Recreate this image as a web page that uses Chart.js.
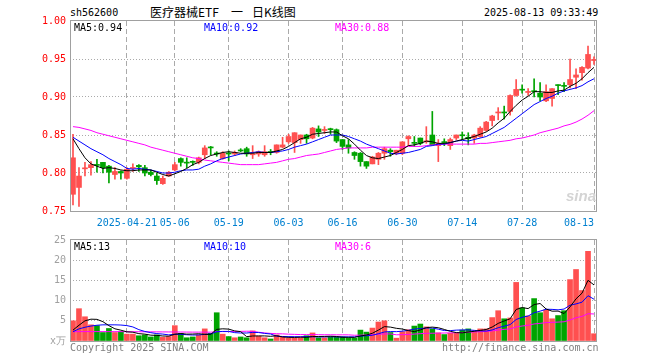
<!DOCTYPE html>
<html>
<head>
<meta charset="utf-8">
<script src="https://cdn.jsdelivr.net/npm/chart.js@4.4.0/dist/chart.umd.min.js"></script>
<style>
  body { margin: 0; background: #fff; width: 660px; height: 360px; position: relative; overflow: hidden; }
  canvas { position: absolute; left: 0; }
  .t { position: absolute; font: 10px "DejaVu Sans Mono", monospace; line-height: 10px; white-space: pre; }
  .cn { position: absolute; font: 12px "Noto Sans CJK SC", sans-serif; line-height: 14px; white-space: pre; }
</style>
</head>
<body>
<div class="t" style="left:70px;top:8px">sh562600</div>
<div class="cn" style="left:150px;top:5px">医疗器械ETF</div>
<div class="cn" style="left:231px;top:5px">一</div>
<div class="cn" style="left:252px;top:5px">日K线图</div>
<div class="t" style="left:484px;top:8px">2025-08-13 09:33:49</div>

<canvas id="kline" width="660" height="235" style="top:0"></canvas>
<canvas id="vol" width="660" height="132" style="top:228px"></canvas>

<div class="t" style="left:74px;top:23px;color:#000">MA5:0.94</div>
<div class="t" style="left:204px;top:23px;color:#0000ff">MA10:0.92</div>
<div class="t" style="left:335px;top:23px;color:#ff00ff">MA30:0.88</div>
<div class="t" style="left:74px;top:242px;color:#000">MA5:13</div>
<div class="t" style="left:204px;top:242px;color:#0000ff">MA10:10</div>
<div class="t" style="left:335px;top:242px;color:#ff00ff">MA30:6</div>

<div style="position:absolute;left:566px;top:187px;font:italic bold 15px 'Liberation Sans',sans-serif;color:#d4d4d4">sina</div>

<div class="t" style="left:70px;top:343px;color:#808080">Copyright 2025 SINA.COM</div>
<div class="t" style="left:442px;top:343px;color:#808080">http://finance.sina.com.cn</div>

<script>
// 交易日
var dates = ['04-08','04-09','04-10','04-11','04-14','04-15','04-16','04-17','04-18','04-21',
  '04-22','04-23','04-24','04-25','04-28','04-29','04-30','05-06','05-07','05-08',
  '05-09','05-12','05-13','05-14','05-15','05-16','05-19','05-20','05-21','05-22',
  '05-23','05-26','05-27','05-28','05-29','05-30','06-03','06-04','06-05','06-06',
  '06-09','06-10','06-11','06-12','06-13','06-16','06-17','06-18','06-19','06-20',
  '06-23','06-24','06-25','06-26','06-27','06-30','07-01','07-02','07-03','07-04',
  '07-07','07-08','07-09','07-10','07-11','07-14','07-15','07-16','07-17','07-18',
  '07-21','07-22','07-23','07-24','07-25','07-28','07-29','07-30','07-31','08-01',
  '08-04','08-05','08-06','08-07','08-08','08-11','08-12','08-13'];

var tickDates = ['04-21','05-06','05-19','06-03','06-16','06-30','07-14','07-28','08-13'];
var tickText  = ['2025-04-21','05-06','05-19','06-03','06-16','06-30','07-14','07-28','08-13'];

var open = [0.772,0.781,0.8055,0.807,0.811,0.814,0.809,0.798,0.802,0.793,
  0.806,0.810,0.807,0.801,0.796,0.786,0.796,0.804,0.819,0.814,
  0.8145,0.814,0.824,0.834,0.826,0.819,0.826,0.825,0.830,0.832,
  0.824,0.825,0.824,0.828,0.827,0.834,0.841,0.840,0.844,0.850,
  0.846,0.858,0.856,0.8575,0.857,0.844,0.837,0.827,0.826,0.815,
  0.812,0.818,0.826,0.830,0.826,0.826,0.845,0.840,0.846,0.841,
  0.850,0.836,0.8405,0.836,0.846,0.850,0.847,0.846,0.848,0.856,
  0.869,0.879,0.880,0.881,0.902,0.910,0.906,0.908,0.905,0.895,
  0.898,0.9155,0.9145,0.916,0.926,0.932,0.938,0.948];
var high = [0.851,0.807,0.814,0.815,0.818,0.814,0.810,0.807,0.803,0.807,
  0.812,0.811,0.810,0.804,0.800,0.796,0.802,0.814,0.820,0.820,
  0.816,0.821,0.836,0.835,0.828,0.828,0.829,0.829,0.832,0.834,
  0.836,0.829,0.836,0.831,0.837,0.847,0.851,0.853,0.850,0.851,
  0.860,0.862,0.861,0.859,0.858,0.844,0.844,0.828,0.827,0.815,
  0.822,0.827,0.834,0.832,0.830,0.841,0.849,0.848,0.846,0.861,
  0.881,0.844,0.845,0.846,0.850,0.854,0.853,0.851,0.861,0.868,
  0.876,0.886,0.888,0.903,0.923,0.916,0.911,0.924,0.919,0.916,
  0.911,0.916,0.919,0.950,0.937,0.940,0.967,0.953];
var low = [0.758,0.756,0.796,0.797,0.801,0.800,0.787,0.792,0.792,0.792,
  0.802,0.802,0.796,0.796,0.785,0.785,0.796,0.803,0.809,0.807,
  0.810,0.812,0.819,0.824,0.822,0.818,0.816,0.823,0.828,0.822,
  0.819,0.822,0.822,0.824,0.826,0.833,0.839,0.827,0.839,0.839,
  0.845,0.848,0.852,0.851,0.840,0.831,0.826,0.818,0.809,0.806,
  0.812,0.811,0.818,0.822,0.824,0.824,0.836,0.835,0.837,0.839,
  0.837,0.815,0.836,0.831,0.844,0.844,0.837,0.839,0.847,0.855,
  0.862,0.870,0.871,0.876,0.901,0.905,0.902,0.900,0.895,0.894,
  0.888,0.903,0.907,0.912,0.911,0.922,0.937,0.943];
var close = [0.820,0.796,0.8065,0.811,0.810,0.807,0.801,0.802,0.800,0.805,
  0.807,0.808,0.800,0.798,0.790,0.793,0.801,0.811,0.814,0.813,
  0.814,0.820,0.833,0.833,0.825,0.826,0.825,0.827,0.829,0.825,
  0.825,0.828,0.828,0.827,0.837,0.837,0.848,0.853,0.850,0.845,
  0.859,0.854,0.8565,0.857,0.842,0.835,0.833,0.823,0.815,0.809,
  0.821,0.826,0.832,0.828,0.830,0.841,0.848,0.839,0.839,0.842,
  0.837,0.839,0.840,0.844,0.850,0.849,0.845,0.850,0.859,0.867,
  0.875,0.880,0.879,0.902,0.910,0.909,0.907,0.907,0.900,0.907,
  0.911,0.915,0.914,0.923,0.929,0.939,0.956,0.949];

var ma5 = [0.845,0.832,0.820,0.812,0.809,0.806,0.807,0.806,0.804,0.803,
  0.803,0.804,0.804,0.804,0.801,0.798,0.796,0.799,0.802,0.806,
  0.811,0.814,0.819,0.823,0.825,0.827,0.828,0.827,0.826,0.826,
  0.826,0.827,0.827,0.827,0.829,0.831,0.835,0.840,0.845,0.847,
  0.851,0.852,0.853,0.854,0.854,0.849,0.845,0.838,0.830,0.823,
  0.820,0.819,0.821,0.823,0.827,0.831,0.836,0.837,0.839,0.842,
  0.841,0.839,0.839,0.840,0.842,0.844,0.846,0.848,0.851,0.854,
  0.859,0.866,0.872,0.881,0.889,0.896,0.901,0.907,0.907,0.906,
  0.906,0.908,0.909,0.914,0.918,0.924,0.932,0.939];
var ma10 = [0.847,0.842,0.837,0.832,0.828,0.824,0.819,0.815,0.811,0.806,
  0.805,0.806,0.805,0.804,0.802,0.800,0.800,0.801,0.803,0.804,
  0.804,0.805,0.809,0.812,0.816,0.819,0.821,0.823,0.825,0.826,
  0.827,0.828,0.827,0.827,0.828,0.829,0.831,0.834,0.836,0.838,
  0.841,0.844,0.847,0.850,0.850,0.850,0.848,0.845,0.842,0.838,
  0.835,0.832,0.829,0.826,0.825,0.826,0.827,0.829,0.831,0.835,
  0.836,0.838,0.838,0.840,0.842,0.843,0.842,0.844,0.846,0.848,
  0.852,0.856,0.860,0.866,0.872,0.878,0.884,0.890,0.894,0.898,
  0.901,0.905,0.908,0.910,0.912,0.915,0.920,0.924];
var ma30 = [0.861,0.860,0.858,0.856,0.853,0.851,0.849,0.847,0.845,0.843,
  0.841,0.839,0.837,0.834,0.832,0.830,0.828,0.826,0.824,0.822,
  0.820,0.819,0.817,0.816,0.815,0.814,0.813,0.812,0.811,0.811,
  0.811,0.811,0.812,0.813,0.814,0.816,0.818,0.819,0.821,0.823,
  0.824,0.825,0.827,0.829,0.831,0.832,0.833,0.833,0.833,0.833,
  0.834,0.834,0.834,0.834,0.834,0.834,0.835,0.835,0.835,0.836,
  0.837,0.837,0.838,0.838,0.838,0.838,0.838,0.838,0.839,0.839,
  0.840,0.841,0.842,0.843,0.845,0.846,0.848,0.850,0.853,0.855,
  0.857,0.859,0.862,0.864,0.867,0.871,0.876,0.882];

// 成交量 (万)
var volume = [5.0,8.0,6.0,4.0,3.8,2.1,3.1,2.1,2.3,1.7,
  1.7,1.3,1.5,1.0,1.5,0.9,1.1,3.8,1.9,0.8,
  1.0,1.5,3.0,1.9,7.0,1.7,1.1,0.8,1.0,0.8,
  2.5,1.2,0.8,0.5,1.5,1.0,0.7,0.7,0.8,1.3,
  2.0,0.8,0.8,1.0,1.0,1.0,0.8,0.7,2.7,2.2,
  3.2,4.7,5.0,2.1,0.7,2.3,2.8,3.7,4.2,3.5,
  3.0,2.0,1.6,1.9,1.9,2.7,3.0,2.5,3.0,3.0,
  5.8,7.5,5.5,5.7,14.5,8.2,6.2,10.5,7.0,7.7,
  5.5,6.3,7.5,15.2,17.7,12.5,22.2,1.8];
var vma5 = [2.7,3.9,5.0,5.4,5.36,4.78,3.8,3.02,2.68,2.26,
  2.18,1.82,1.7,1.44,1.4,1.24,1.2,1.66,1.84,1.7,
  1.72,1.8,1.64,1.64,2.88,3.02,2.94,2.5,2.32,1.08,
  1.24,1.26,1.26,1.16,1.3,1.0,0.9,0.88,0.94,0.9,
  1.1,1.12,1.14,1.18,1.12,0.92,0.92,0.9,1.24,1.48,
  1.92,2.7,3.56,3.44,3.14,2.96,2.58,2.32,2.74,3.3,
  3.44,3.28,2.86,2.4,2.08,2.02,2.22,2.4,2.62,2.84,
  3.46,4.36,4.96,5.5,7.8,8.28,8.02,9.02,9.28,7.92,
  7.38,7.4,6.8,8.44,10.44,11.84,15.02,13.88];
var vma10 = [2.3,3.0,3.4,3.7,3.9,4.0,4.0,4.0,3.95,3.81,
  3.48,2.81,2.36,2.06,1.83,1.71,1.51,1.68,1.64,1.55,
  1.48,1.5,1.65,1.74,2.29,2.37,2.37,2.07,1.98,1.98,
  2.13,2.1,1.88,1.74,1.19,1.12,1.08,1.07,1.05,1.1,
  1.05,1.01,1.01,1.06,1.01,1.01,1.02,1.02,1.21,1.3,
  1.42,1.81,2.23,2.34,2.31,2.44,2.64,2.94,3.09,3.22,
  3.2,2.93,2.59,2.57,2.69,2.73,2.75,2.63,2.51,2.46,
  2.74,3.29,3.68,4.06,5.32,5.87,6.19,6.99,7.39,7.86,
  7.83,7.71,7.91,8.86,9.18,9.61,11.21,10.34];
var vma30 = [2.30,2.32,2.33,2.33,2.33,2.33,2.32,2.32,2.31,2.30,
  2.30,2.29,2.28,2.27,2.26,2.25,2.24,2.23,2.22,2.21,
  2.20,2.20,2.19,2.18,2.33,2.33,2.33,2.35,2.38,2.42,
  2.40,2.17,2.0,1.88,1.80,1.77,1.69,1.64,1.59,1.58,
  1.59,1.57,1.55,1.55,1.53,1.53,1.52,1.42,1.45,1.49,
  1.57,1.67,1.74,1.75,1.54,1.56,1.61,1.71,1.82,1.91,
  1.92,1.95,1.98,2.02,2.04,2.09,2.17,2.23,2.30,2.36,
  2.49,2.71,2.87,3.02,3.47,3.71,3.89,4.22,4.36,4.55,
  4.62,4.68,4.76,5.20,5.76,6.10,6.75,6.69];

var RED = '#ff5050', GREEN = '#00a400';
var colors = close.map(function (c, i) { return c >= open[i] ? RED : GREEN; });
var wicks = low.map(function (l, i) { return [l, high[i]]; });
var bodies = open.map(function (o, i) { return [Math.min(o, close[i]), Math.max(o, close[i])]; });
var mono = { family: 'DejaVu Sans Mono', size: 10 };

// 边框
var frame = {
    id: 'frame',
    afterDatasetsDraw: function (chart) {
        var a = chart.chartArea, ctx = chart.ctx;
        ctx.save();
        ctx.strokeStyle = '#a0a0a0';
        ctx.lineWidth = 1;
        ctx.strokeRect(a.left + 0.5, a.top - 0.5, a.right - a.left - 1, a.bottom - a.top + 1);
        ctx.restore();
    }
};

function xScale(showTicks) {
    return {
        offset: true,
        grid: {
            offset: false,
            drawTicks: false,
            color: function (c) { return tickDates.indexOf(dates[c.index]) >= 0 ? '#aaaaaa' : 'rgba(0,0,0,0)'; }
        },
        border: { display: false, dash: [5, 3] },
        ticks: {
            display: showTicks,
            autoSkip: false,
            maxRotation: 0,
            align: 'inner',
            padding: 6,
            color: '#0080d0',
            font: mono,
            callback: function (v, i) {
                var k = tickDates.indexOf(dates[i]);
                return k >= 0 ? tickText[k] : '';
            }
        },
        afterFit: function (s) { s.height = showTicks ? 24 : 0; }
    };
}

function line(data, color) {
    return { type: 'line', data: data, borderColor: color, borderWidth: 1, pointRadius: 0, tension: 0, order: 0 };
}

new Chart(document.getElementById('kline'), {
    type: 'bar',
    data: {
        labels: dates,
        datasets: [
            line(ma5, '#000000'),
            line(ma10, '#0000ff'),
            line(ma30, '#ff00ff'),
            { data: bodies, backgroundColor: colors, barThickness: 5, minBarLength: 1, grouped: false, order: 1 },
            { data: wicks, backgroundColor: colors, barThickness: 1, grouped: false, order: 2 }
        ]
    },
    options: {
        responsive: false,
        animation: false,
        layout: { padding: { top: 21, right: 63, left: 0, bottom: 0 } },
        plugins: { legend: { display: false }, tooltip: { enabled: false } },
        scales: {
            x: xScale(true),
            y: {
                min: 0.75,
                max: 1.0,
                grid: {
                    drawTicks: false,
                    color: function (c) { return (c.tick.value > 0.76 && c.tick.value < 0.99) ? '#aaaaaa' : 'rgba(0,0,0,0)'; }
                },
                border: { display: false, dash: [1, 2] },
                ticks: {
                    stepSize: 0.05,
                    padding: 4,
                    color: '#ff0000',
                    font: mono,
                    callback: function (v) { return v.toFixed(2); }
                },
                afterFit: function (s) { s.width = 70; }
            }
        }
    },
    plugins: [frame]
});

new Chart(document.getElementById('vol'), {
    type: 'bar',
    data: {
        labels: dates,
        datasets: [
            line(vma5, '#000000'),
            line(vma10, '#0000ff'),
            line(vma30, '#ff00ff'),
            { data: volume, backgroundColor: colors, barThickness: 5, grouped: false, order: 1 }
        ]
    },
    options: {
        responsive: false,
        animation: false,
        layout: { padding: { top: 12, right: 63, left: 0, bottom: 19 } },
        plugins: { legend: { display: false }, tooltip: { enabled: false } },
        scales: {
            x: xScale(false),
            y: {
                min: 0,
                max: 25,
                grid: {
                    drawTicks: false,
                    color: function (c) { return (c.tick.value > 0 && c.tick.value < 25) ? '#aaaaaa' : 'rgba(0,0,0,0)'; }
                },
                border: { display: false, dash: [1, 2] },
                ticks: {
                    stepSize: 5,
                    padding: 4,
                    color: '#a0a0a0',
                    font: mono,
                    callback: function (v) { return v === 0 ? 'x万' : v; }
                },
                afterFit: function (s) { s.width = 70; }
            }
        }
    },
    plugins: [frame]
});
</script>
</body>
</html>
